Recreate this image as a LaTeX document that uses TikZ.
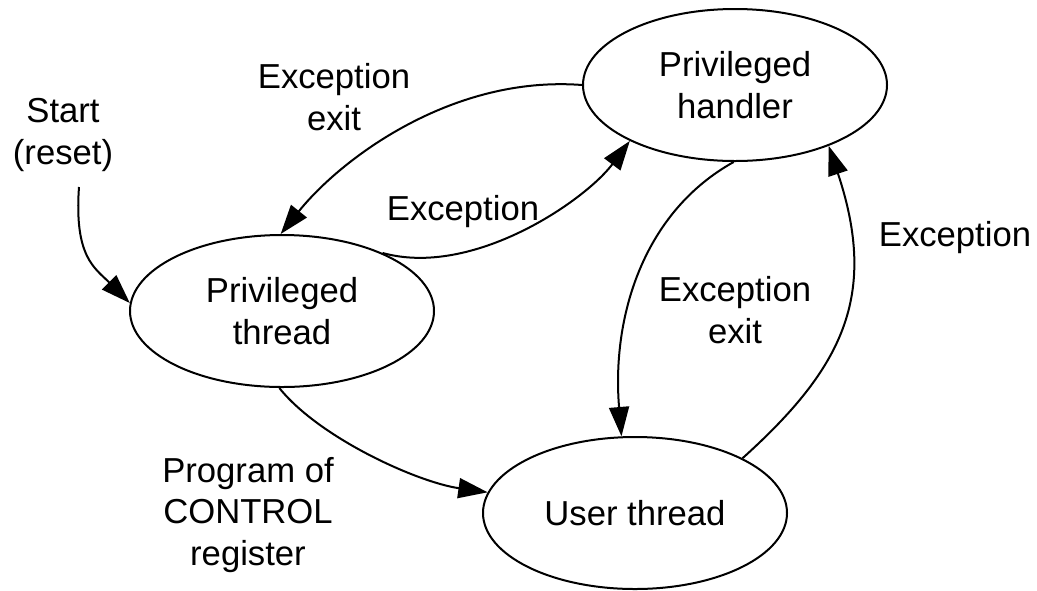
\documentclass[tikz,border=0pt]{standalone}
\usepackage{fontspec}
\setmainfont{Liberation Sans}
\usetikzlibrary{shapes.geometric,arrows.meta,positioning}

\begin{document}
\begin{tikzpicture}[x=0.75pt,y=0.75pt,yscale=-1,
  every node/.style={font=\fontsize{26}{31}\selectfont},
  mode/.style={draw,ellipse,line width=1.5pt,minimum width=228pt,minimum height=114pt,inner sep=0pt,align=center},
  lbl/.style={align=center,inner sep=0pt},
  trans/.style={line width=1.5pt,-{Triangle[length=22pt,width=15pt]}}]
\useasboundingbox (0,0) rectangle (1037,590);

%Shape: Ellipse
\node [mode] (handler) at (735,85) {Privileged\\handler};
%Shape: Ellipse
\node [mode] (pthread) at (282,311) {Privileged\\thread};
%Shape: Ellipse
\node [mode] (uthread) at (635,513) {User thread};

% Text Node
\node [lbl] (startlbl) at (63,135) {Start\\(reset)};
% Text Node
\node [lbl] (excexitA) at (334,97) {Exception\\exit};
% Text Node
\node [lbl] (excA) at (463,212) {Exception};
% Text Node
\node [lbl] (excexitB) at (735,310) {Exception\\exit};
% Text Node
\node [lbl] (excB) at (955,238) {Exception};
% Text Node
\node [lbl] (progctl) at (248,515) {Program of\\CONTROL\\register};

%Curve Lines
\coordinate (reset) at (79,187);
\draw [trans] (reset) .. controls +(-5,70) and +(-35,-35) .. (pthread.177);
\draw [trans] (handler.west) .. controls +(-130,-10) and +(60,-75) .. (pthread.91);
\draw [trans] (pthread.30) .. controls +(90,25) and +(-45,60) .. (handler.208);
\draw [trans] (handler.269) .. controls +(-90,50) and +(-10,-120) .. (uthread.100);
\draw [trans] (uthread.27) .. controls +(100,-90) and +(50,150) .. (handler.327);
\draw [trans] (pthread.268) .. controls +(40,50) and +(-70,-10) .. (uthread.172);

\end{tikzpicture}
\end{document}
